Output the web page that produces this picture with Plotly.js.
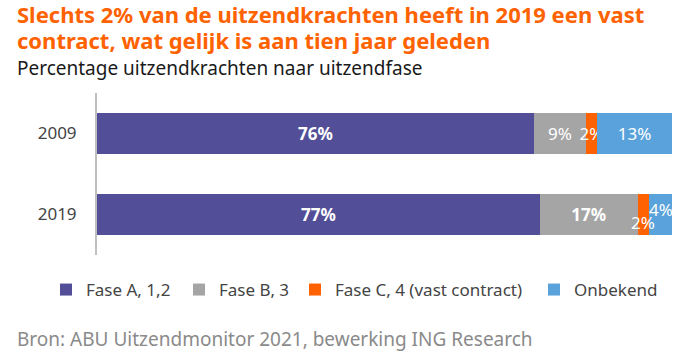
<!DOCTYPE html>
<html>
<head>
<meta charset="utf-8">
<script src="https://cdn.plot.ly/plotly-3.0.1.min.js"></script>
<style>html,body{margin:0;padding:0;background:#fff;}#chart{width:681px;height:358px;}</style>
</head>
<body>
<div id="chart"></div>
<script>
const years = ["2009", "2019"];
const seriesNames = ["Fase A, 1,2", "Fase B, 3", "Fase C, 4 (vast contract)", "Onbekend"];
const faseA = [76, 77];
const faseB = [9, 17];
const faseC = [2, 2];
const onbekend = [13, 4];

const colors = ["#524E97", "#A5A5A5", "#FF6200", "#5AA2DB"];
const series = [faseA, faseB, faseC, onbekend];
const FONT = "Noto Sans, Open Sans, sans-serif";

// small 2019 segments get their label nudged vertically (series index -> {year index: yshift})
const offsetLabels = {2: {1: 8}, 3: {1: -5}};
const isOffset = (i, j) => offsetLabels[i] && offsetLabels[i][j] !== undefined;
const fmt = v => (v >= 15 ? "<b>" + v + "%</b>" : v + "%");

// each series has its own legend box so the entries can be spaced like the original
const legendIds = ["legend", "legend2", "legend3", "legend4"];
const legendTextStart = [86, 219, 335, 574]; // px from left where each entry's text begins

const traces = series.map((vals, i) => ({
  type: "bar",
  orientation: "h",
  name: seriesNames[i],
  legend: legendIds[i],
  y: years,
  x: vals,
  marker: {color: colors[i], line: {width: 0}},
  text: vals.map((v, j) => isOffset(i, j) ? "" : fmt(v)),
  textposition: "inside",
  insidetextanchor: "middle",
  constraintext: "none",
  textangle: 0,
  textfont: {color: "#ffffff", size: 17, family: FONT},
  hoverinfo: "skip"
}));

const annotations = [];
series.forEach((vals, i) => {
  vals.forEach((v, j) => {
    if (!isOffset(i, j)) return;
    let start = 0;
    for (let k = 0; k < i; k++) start += series[k][j];
    annotations.push({
      x: start + v / 2, y: years[j], xref: "x", yref: "y",
      text: fmt(v), showarrow: false, yshift: -offsetLabels[i][j],
      font: {color: "#ffffff", size: 17, family: FONT}
    });
  });
});

// plot area: x 97..672, y 93..255 (height 162)
const PX = x => (x - 97) / 575;
const PY = y => (255 - y) / 162;

annotations.push(
  {xref: "paper", yref: "paper", x: PX(15), y: PY(13.5), xanchor: "left", yanchor: "middle",
   text: "<b>Slechts 2% van de uitzendkrachten heeft in 2019 een vast</b>",
   showarrow: false, font: {family: FONT, size: 22, color: "#FF6200"}},
  {xref: "paper", yref: "paper", x: PX(15), y: PY(40.5), xanchor: "left", yanchor: "middle",
   text: "<b>contract, wat gelijk is aan tien jaar geleden</b>",
   showarrow: false, font: {family: FONT, size: 22, color: "#FF6200"}},
  {xref: "paper", yref: "paper", x: PX(15), y: PY(68), xanchor: "left", yanchor: "middle",
   text: "Percentage uitzendkrachten naar uitzendfase", showarrow: false,
   font: {family: FONT, size: 19, color: "#1a1a1a"}},
  {xref: "paper", yref: "paper", x: PX(15), y: PY(339), xanchor: "left", yanchor: "middle",
   text: "Bron: ABU Uitzendmonitor 2021, bewerking ING Research", showarrow: false,
   font: {family: FONT, size: 19, color: "#8a8a8a"}}
);

const layout = {
  width: 681, height: 358,
  margin: {l: 97, r: 9, t: 93, b: 103},
  paper_bgcolor: "#fff", plot_bgcolor: "#fff",
  barmode: "stack",
  bargap: 0.5,
  showlegend: true,
  xaxis: {range: [0, 100], visible: false, fixedrange: true},
  yaxis: {
    autorange: "reversed", showline: true, linecolor: "#C0C0C0", linewidth: 2,
    ticks: "", ticklabelstandoff: 15,
    tickfont: {family: FONT, size: 17, color: "#444"}, showgrid: false, zeroline: false
  },
  annotations: annotations
};

legendIds.forEach((id, i) => {
  layout[id] = {
    orientation: "h", xref: "container", yref: "container",
    x: (legendTextStart[i] - 40) / 681, xanchor: "left",
    y: (358 - 290) / 358, yanchor: "middle",
    font: {family: FONT, size: 17, color: "#444"},
    itemwidth: 30, bgcolor: "rgba(0,0,0,0)"
  };
});

Plotly.newPlot("chart", traces, layout, {displayModeBar: false, staticPlot: true});
</script>
</body>
</html>
